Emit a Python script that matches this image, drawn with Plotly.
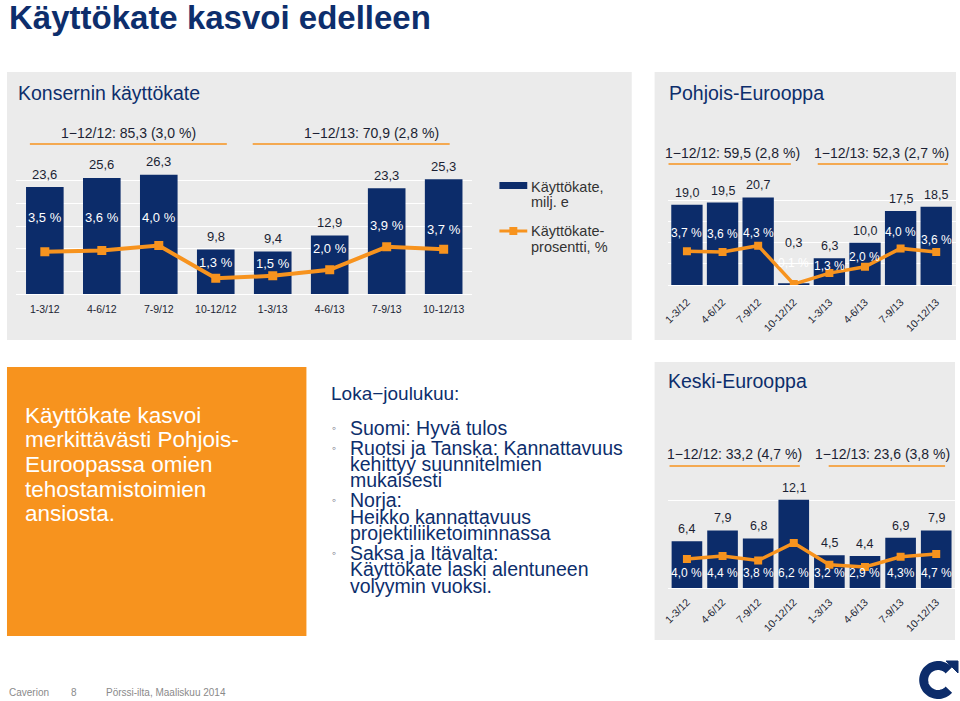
import numpy as np
import plotly.graph_objects as go

W, H = 960, 701


def X(px):
    return px / W


def Y(py):
    return 1 - py / H


# ---------------- data ----------------
QUARTERS = ["1-3/12", "4-6/12", "7-9/12", "10-12/12", "1-3/13", "4-6/13", "7-9/13", "10-12/13"]

GROUP_EBITDA = [23.6, 25.6, 26.3, 9.8, 9.4, 12.9, 23.3, 25.3]
GROUP_PCT = [3.5, 3.6, 4.0, 1.3, 1.5, 2.0, 3.9, 3.7]
GROUP_PCT_LABELS = ["3,5 %", "3,6 %", "4,0 %", "1,3 %", "1,5 %", "2,0 %", "3,9 %", "3,7 %"]
GROUP_TOTALS = ["1\u221212/12: 85,3 (3,0 %)", "1\u221212/13: 70,9 (2,8 %)"]

NORTH_EBITDA = [19.0, 19.5, 20.7, 0.3, 6.3, 10.0, 17.5, 18.5]
NORTH_PCT = [3.7, 3.6, 4.3, 0.1, 1.3, 2.0, 4.0, 3.6]
NORTH_PCT_LABELS = ["3,7 %", "3,6 %", "4,3 %", "0,1 %", "1,3 %", "2,0 %", "4,0 %", "3,6 %"]
NORTH_TOTALS = ["1\u221212/12: 59,5 (2,8 %)", "1\u221212/13: 52,3 (2,7 %)"]

CENTRAL_EBITDA = [6.4, 7.9, 6.8, 12.1, 4.5, 4.4, 6.9, 7.9]
CENTRAL_PCT = [4.0, 4.4, 3.8, 6.2, 3.2, 2.9, 4.3, 4.7]
CENTRAL_PCT_LABELS = ["4,0 %", "4,4 %", "3,8 %", "6,2 %", "3,2 %", "2,9 %", "4,3%", "4,7 %"]
CENTRAL_TOTALS = ["1\u221212/12: 33,2 (4,7 %)", "1\u221212/13: 23,6 (3,8 %)"]

SERIES_NAMES = ["K\u00e4ytt\u00f6kate,", "milj. e", "K\u00e4ytt\u00f6kate-", "prosentti, %"]

TITLE = "K\u00e4ytt\u00f6kate kasvoi edelleen"
PANEL_TITLES = ["Konsernin k\u00e4ytt\u00f6kate", "Pohjois-Eurooppa", "Keski-Eurooppa"]

BOX_LINES = ["K\u00e4ytt\u00f6kate kasvoi", "merkitt\u00e4v\u00e4sti Pohjois-",
             "Euroopassa omien", "tehostamistoimien", "ansiosta."]

NOTES_HEAD = "Loka\u2212joulukuu:"
NOTES = [
    ["Suomi: Hyv\u00e4 tulos"],
    ["Ruotsi ja Tanska: Kannattavuus", "kehittyy suunnitelmien", "mukaisesti"],
    ["Norja:", "Heikko kannattavuus", "projektiliiketoiminnassa"],
    ["Saksa ja It\u00e4valta:", "K\u00e4ytt\u00f6kate laski alentuneen", "volyymin vuoksi."],
]

FOOTER = ["Caverion", "8", "P\u00f6rssi-ilta, Maaliskuu 2014"]

# ---------------- style ----------------
FONT = "Liberation Sans, Arial, Helvetica, sans-serif"
NAVY = "#0c2c6a"
TITLE_NAVY = "#0d2e6c"
ORANGE = "#f7931e"
PANEL = "#ebebeb"
DARK = "#1b1f33"

# label nudges (pixels above the point / bar top)
G_PCT_SHIFT = [34, 33, 28, 16, 12, 21, 21, 20]
N_PCT_SHIFT = [18, 18, 13, 21, 7, 10, 16, 12]
N_VAL_SHIFT = [12, 12, 12, 41, 12, 12, 12, 12]


def fmt(v):
    return f"{v:.1f}".replace(".", ",")


fig = go.Figure()
annotations = []
shapes = []


def ann(x, y, text, size, color=DARK, xanchor="center", yanchor="middle", bold=False, **kw):
    if bold:
        text = "<b>" + text + "</b>"
    d = dict(x=x, y=y, text=text, showarrow=False, xanchor=xanchor, yanchor=yanchor,
             font=dict(family=FONT, size=size, color=color))
    d.setdefault("xref", "paper")
    d.setdefault("yref", "paper")
    d.update(kw)
    annotations.append(d)


def rect(x0, y0, x1, y1, color):
    shapes.append(dict(type="rect", xref="paper", yref="paper", x0=X(x0), x1=X(x1),
                       y0=Y(y1), y1=Y(y0), fillcolor=color, line=dict(width=0), layer="below"))


def hline(x0, x1, y, color=ORANGE, width=1.5):
    shapes.append(dict(type="line", xref="paper", yref="paper", x0=X(x0), x1=X(x1),
                       y0=Y(y), y1=Y(y), line=dict(color=color, width=width)))


# panels
rect(2, 72, 630, 340, PANEL)
rect(653, 72, 956, 340, PANEL)
rect(653, 362, 955, 640, PANEL)
rect(2, 367, 303, 636, ORANGE)

# ---------------- charts ----------------
charts = [
    dict(xa="x", ya="y", ya2="y2", vals=GROUP_EBITDA, pct=GROUP_PCT, labels=GROUP_PCT_LABELS,
         width=0.66, lw=4, ms=9),
    dict(xa="x2", ya="y3", ya2="y4", vals=NORTH_EBITDA, pct=NORTH_PCT, labels=NORTH_PCT_LABELS,
         width=0.88, lw=3.5, ms=8),
    dict(xa="x3", ya="y5", ya2="y6", vals=CENTRAL_EBITDA, pct=CENTRAL_PCT, labels=CENTRAL_PCT_LABELS,
         width=0.86, lw=3.5, ms=8),
]

for c in charts:
    fig.add_trace(go.Bar(x=QUARTERS, y=c["vals"], xaxis=c["xa"], yaxis=c["ya"],
                         marker=dict(color=NAVY, line=dict(width=0)), width=c["width"],
                         hoverinfo="skip", showlegend=False))
    fig.add_trace(go.Scatter(x=QUARTERS, y=c["pct"], xaxis=c["xa"], yaxis=c["ya2"],
                             mode="lines+markers",
                             line=dict(color=ORANGE, width=c["lw"]),
                             marker=dict(symbol="square", size=c["ms"], color=ORANGE),
                             hoverinfo="skip", showlegend=False))

# value labels above bars
for i, q in enumerate(QUARTERS):
    ann(q, GROUP_EBITDA[i], fmt(GROUP_EBITDA[i]), 13, xref="x", yref="y", yshift=13)
    ann(q, GROUP_PCT[i], GROUP_PCT_LABELS[i], 13, color="white", xref="x", yref="y2",
        yshift=G_PCT_SHIFT[i])
    ann(q, NORTH_EBITDA[i], fmt(NORTH_EBITDA[i]), 12.5, xref="x2", yref="y3", yshift=N_VAL_SHIFT[i])
    ann(q, NORTH_PCT[i], NORTH_PCT_LABELS[i], 12, color="white", xref="x2", yref="y4",
        yshift=N_PCT_SHIFT[i])
    ann(q, CENTRAL_EBITDA[i], fmt(CENTRAL_EBITDA[i]), 12.5, xref="x3", yref="y5", yshift=12)
    ann(q, 2, CENTRAL_PCT_LABELS[i], 12, color="white", xref="x3", yref="y5")


def xaxis_cfg(x0, x1, anchor, angle, ticklen):
    return dict(domain=[X(x0), X(x1)], anchor=anchor, type="category", tickangle=angle,
                showgrid=False, zeroline=False, showline=True, linecolor="white", linewidth=1,
                ticks="outside", ticklen=ticklen, tickcolor="rgba(0,0,0,0)",
                tickfont=dict(family=FONT, size=10.5, color=DARK), fixedrange=True)


def yaxis_cfg(base, top, rng, grid, anchor):
    return dict(domain=[Y(base), Y(top)], range=[0, rng], tickvals=grid, showgrid=True,
                gridcolor="white", gridwidth=1, showticklabels=False, zeroline=False,
                showline=False, ticks="", anchor=anchor, fixedrange=True)


def y2_cfg(over, rng, anchor):
    return dict(overlaying=over, range=[0, rng], visible=False, anchor=anchor, fixedrange=True)


layout_axes = dict(
    xaxis=xaxis_cfg(11.4, 469.6, "y", 0, 5),
    yaxis=yaxis_cfg(294, 158, 30, [5, 10, 15, 20, 25], "x"),
    yaxis2=y2_cfg("y", 11.24, "x"),
    xaxis2=xaxis_cfg(666, 955.6, "y3", -45, 6),
    yaxis3=yaxis_cfg(285, 179.25, 25, [5, 10, 15, 20], "x2"),
    yaxis4=y2_cfg("y3", 11.56, "x2"),
    xaxis3=xaxis_cfg(666, 955.6, "y5", -45, 3),
    yaxis5=yaxis_cfg(588, 486, 14, [12, 14], "x3"),
    yaxis6=y2_cfg("y5", 14.07, "x3"),
)

# ---------------- texts ----------------
ann(X(2), Y(18), TITLE, 33, color=TITLE_NAVY, xanchor="left", bold=True)
ann(X(11), Y(93), PANEL_TITLES[0], 19.5, color=TITLE_NAVY, xanchor="left")
ann(X(665), Y(93), PANEL_TITLES[1], 19.5, color=TITLE_NAVY, xanchor="left")
ann(X(664), Y(381), PANEL_TITLES[2], 19.5, color=TITLE_NAVY, xanchor="left")

# period totals with orange underlines
ann(X(124.5), Y(133), GROUP_TOTALS[0], 14)
ann(X(368), Y(133), GROUP_TOTALS[1], 14)
hline(25, 223, 144)
hline(249, 447, 144)

ann(X(731), Y(153), NORTH_TOTALS[0], 14)
ann(X(881.5), Y(153), NORTH_TOTALS[1], 14)
hline(667, 790, 164)
hline(817, 948, 164)

ann(X(733), Y(454), CENTRAL_TOTALS[0], 14)
ann(X(882), Y(454), CENTRAL_TOTALS[1], 14)
hline(668, 799, 466)
hline(828, 945, 466)

# legend
rect(497, 182, 525, 189, NAVY)
ann(X(527), Y(187), SERIES_NAMES[0], 14.5, color="#333333", xanchor="left")
ann(X(527), Y(202), SERIES_NAMES[1], 14.5, color="#333333", xanchor="left")
hline(497, 525, 231, width=3)
shapes.append(dict(type="rect", xref="paper", yref="paper", x0=X(507), x1=X(515),
                   y0=Y(235), y1=Y(227), fillcolor=ORANGE, line=dict(width=0)))
ann(X(527), Y(231), SERIES_NAMES[2], 14.5, color="#333333", xanchor="left")
ann(X(527), Y(247), SERIES_NAMES[3], 14.5, color="#333333", xanchor="left")

# orange box text
for i, line in enumerate(BOX_LINES):
    ann(X(18), Y(415 + 24.7 * i), line, 22.5, color="white", xanchor="left")

# notes
ann(X(326), Y(393), NOTES_HEAD, 19, color=TITLE_NAVY, xanchor="left")
yy = 428
for b, block in enumerate(NOTES):
    if b > 0:
        yy += 19.5
    for j, line in enumerate(block):
        if j > 0:
            yy += 16.5
        if j == 0:
            ann(X(331), Y(yy), "\u25e6", 12, color="#555a70")
        ann(X(345), Y(yy), line, 19.5, color=TITLE_NAVY, xanchor="left")

# footer
ann(X(2), Y(692), FOOTER[0], 10, color="#8a8a8a", xanchor="left")
ann(X(64), Y(692), FOOTER[1], 10, color="#8a8a8a", xanchor="left")
ann(X(100), Y(692), FOOTER[2], 10, color="#8a8a8a", xanchor="left")

# logo (C with arrow tip)
cx, cy, r = 938, 680, 14.5
th = np.radians(np.linspace(42, 318, 60))
pts = [(cx + r * np.cos(t), cy - r * np.sin(t)) for t in th]
path = "M " + " L ".join(f"{X(px):.5f},{Y(py):.5f}" for px, py in pts)
shapes.append(dict(type="path", xref="paper", yref="paper", path=path,
                   line=dict(color=NAVY, width=9)))
tri = [(946, 661), (958, 661), (958, 673)]
shapes.append(dict(type="path", xref="paper", yref="paper",
                   path="M " + " L ".join(f"{X(px):.5f},{Y(py):.5f}" for px, py in tri) + " Z",
                   fillcolor=NAVY, line=dict(color=NAVY, width=1)))

fig.update_layout(
    width=W, height=H, autosize=False,
    margin=dict(l=0, r=0, t=0, b=0),
    paper_bgcolor="white", plot_bgcolor="rgba(0,0,0,0)",
    showlegend=False,
    annotations=annotations, shapes=shapes,
    font=dict(family=FONT),
    **layout_axes,
)

fig.write_html(
    "out.html",
    config={"displayModeBar": False},
    post_script="document.body.style.margin='0';document.body.style.overflow='hidden';",
)
